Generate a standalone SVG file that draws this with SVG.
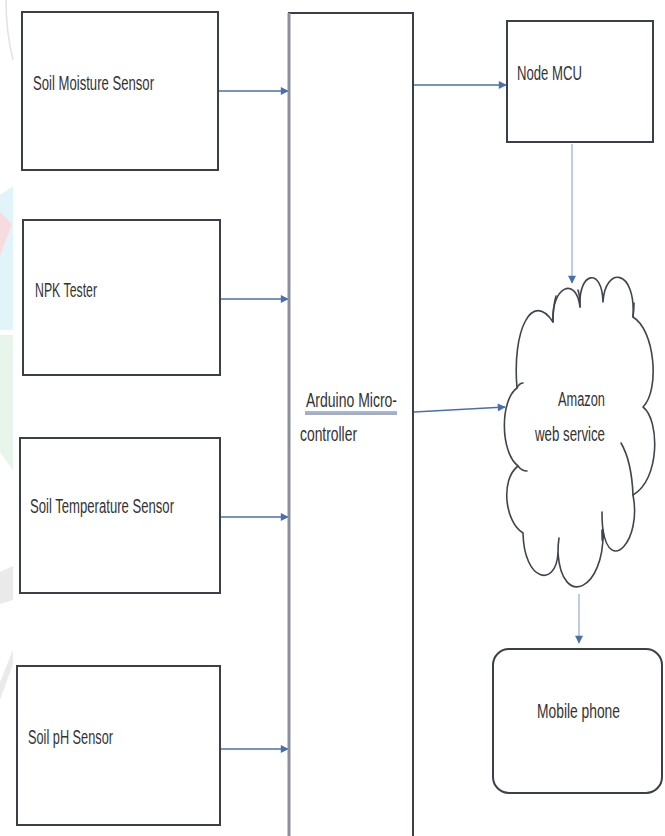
<svg xmlns="http://www.w3.org/2000/svg" width="665" height="836" viewBox="0 0 665 836">
<style>
.box{fill:#fff;stroke:#3b3f4a;stroke-width:2}
.t{font-family:"Liberation Sans",Arial,sans-serif;font-size:20px;fill:#333}
.c{fill:none;stroke:#4a6fb0;stroke-width:1.3}
.cl{fill:none;stroke:#9db2d6;stroke-width:1.3}
.cloud{fill:#fff;stroke:#40444e;stroke-width:1.6;stroke-linejoin:round}
.curl{fill:none;stroke:#40444e;stroke-width:1.6;stroke-linecap:round}
</style>
<defs>
<marker id="ah" viewBox="0 0 10 10" refX="9" refY="5" markerWidth="9" markerHeight="8" markerUnits="userSpaceOnUse" orient="auto">
<path d="M0,0 L10,5 L0,10 z" fill="#4a6fb0"/>
</marker>
</defs>
<rect width="665" height="836" fill="#fff"/>
<g id="watermark" opacity="0.8">
<path d="M0,195 L13,186 L13,330 L0,330 z" fill="#d9f2f8"/>
<path d="M0,212 L12,224 L0,256 z" fill="#f6d3d8"/>
<path d="M0,335 L13,335 L13,470 L0,452 z" fill="#e2f3e8"/>
<path d="M0,572 L13,566 L13,600 L0,604 z" fill="#e5e5e5"/>
<path d="M0,682 L13,650 L13,664 L0,700 z" fill="#e5e5e5"/>
<path d="M6,0 C6,20 8,40 13,60" fill="none" stroke="#dcdcdc" stroke-width="1.5"/>
</g>
<g id="connectors">
<line class="c" x1="219" y1="91" x2="288" y2="91" marker-end="url(#ah)"/>
<line class="c" x1="221" y1="299" x2="288" y2="299" marker-end="url(#ah)"/>
<line class="c" x1="221" y1="517" x2="288" y2="517" marker-end="url(#ah)"/>
<line class="c" x1="221" y1="749" x2="288" y2="749" marker-end="url(#ah)"/>
<line class="c" x1="414" y1="85" x2="506" y2="85" marker-end="url(#ah)"/>
<line class="cl" x1="572" y1="144" x2="572" y2="283" marker-end="url(#ah)"/>
<line class="c" x1="414" y1="412" x2="505" y2="407" marker-end="url(#ah)"/>
<line class="cl" x1="579" y1="594" x2="579" y2="643" marker-end="url(#ah)"/>
</g>
<g id="soil-moisture">
<rect class="box" x="22" y="12" width="196" height="158"/>
<text class="t" x="33" y="90" font-size="22" textLength="121" lengthAdjust="spacingAndGlyphs">Soil Moisture Sensor</text>
</g>
<g id="npk">
<rect class="box" x="23" y="220" width="197" height="155"/>
<text class="t" x="35" y="297" textLength="62" lengthAdjust="spacingAndGlyphs">NPK Tester</text>
</g>
<g id="soil-temp">
<rect class="box" x="20" y="438" width="200" height="155"/>
<text class="t" x="30" y="513" font-size="21" textLength="144" lengthAdjust="spacingAndGlyphs">Soil Temperature Sensor</text>
</g>
<g id="soil-ph">
<rect class="box" x="17" y="666" width="203" height="159"/>
<text class="t" x="28" y="744" textLength="85" lengthAdjust="spacingAndGlyphs">Soil pH Sensor</text>
</g>
<g id="arduino">
<rect class="box" x="289" y="13" width="124" height="840"/>
<line x1="289" y1="13" x2="289" y2="836" stroke="#8a8f99" stroke-width="3"/>
<text class="t" x="306" y="407" font-size="19" textLength="91" lengthAdjust="spacingAndGlyphs">Arduino  Micro-</text>
<line x1="305" y1="412" x2="397" y2="412" stroke="#4a6fb0" stroke-width="1"/>
<line x1="305" y1="414" x2="397" y2="414" stroke="#555a66" stroke-width="1"/>
<text class="t" x="300" y="441" font-size="19" textLength="57" lengthAdjust="spacingAndGlyphs">controller</text>
</g>
<g id="node-mcu">
<rect class="box" x="507" y="21" width="146" height="121"/>
<text class="t" x="517" y="80" font-size="23" textLength="65" lengthAdjust="spacingAndGlyphs">Node MCU</text>
</g>
<g id="aws">
<path class="cloud" d="M517,388 C512,330 532,290 553,322 C551,287 576,275 580,307 C578,272 602,266 603,302 C605,266 636,268 633,317 C655,330 660,390 643,407 C660,420 660,480 633,495 C642,540 610,575 603,530 C605,590 562,610 558,553 C556,588 524,582 523,533 C505,522 500,480 518,466 C500,452 500,400 517,388 Z"/>
<path class="curl" d="M517,388 C519,384 521,383 523,383"/>
<path class="curl" d="M518,466 C521,470 524,471 527,471"/>
<path class="curl" d="M553,322 C553,312 554,303 556,296"/>
<path class="curl" d="M580,307 C580,300 579,293 578,290"/>
<path class="curl" d="M633,317 C634,310 634,306 634,303"/>
<path class="curl" d="M633,495 C632,470 628,455 621,443"/>
<path class="curl" d="M603,530 C603,540 602,548 602,530"/>
<path class="curl" d="M558,553 C558,548 558,544 559,538"/>
<path class="curl" d="M603,530 C602,523 602,518 602,512"/>
<text class="t" x="558" y="406" font-size="19" textLength="47" lengthAdjust="spacingAndGlyphs">Amazon</text>
<text class="t" x="535" y="441" font-size="19" textLength="70" lengthAdjust="spacingAndGlyphs">web service</text>
</g>
<g id="mobile">
<rect class="box" x="493" y="649" width="169" height="144" rx="16" ry="16"/>
<text class="t" x="537" y="718" font-size="21" textLength="83" lengthAdjust="spacingAndGlyphs">Mobile phone</text>
</g>
</svg>
